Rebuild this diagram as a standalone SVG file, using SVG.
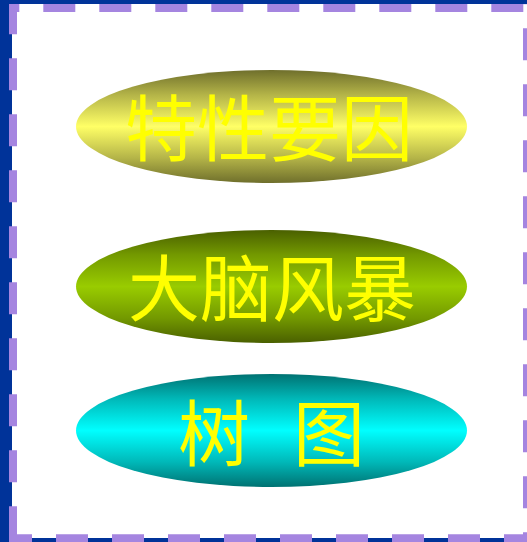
<svg xmlns="http://www.w3.org/2000/svg" width="527" height="542" viewBox="0 0 527 542">
  <defs>
    <linearGradient id="gY" x1="0" y1="0" x2="0" y2="1">
      <stop offset="0" stop-color="#6f6f2c"/>
      <stop offset="0.22" stop-color="#b4b448"/>
      <stop offset="0.5" stop-color="#ffff66"/>
      <stop offset="0.78" stop-color="#b4b448"/>
      <stop offset="1" stop-color="#6f6f2c"/>
    </linearGradient>
    <linearGradient id="gG" x1="0" y1="0" x2="0" y2="1">
      <stop offset="0" stop-color="#4a6000"/>
      <stop offset="0.22" stop-color="#739900"/>
      <stop offset="0.5" stop-color="#99cc00"/>
      <stop offset="0.78" stop-color="#739900"/>
      <stop offset="1" stop-color="#4a6000"/>
    </linearGradient>
    <linearGradient id="gC" x1="0" y1="0" x2="0" y2="1">
      <stop offset="0" stop-color="#007272"/>
      <stop offset="0.22" stop-color="#00b8b8"/>
      <stop offset="0.5" stop-color="#00ffff"/>
      <stop offset="0.78" stop-color="#00b8b8"/>
      <stop offset="1" stop-color="#007272"/>
    </linearGradient>
  </defs>
  <style>
    .dash { stroke: #a585e0; stroke-width: 8; stroke-dasharray: 32 24; fill: none; }
    .lbl { font-family: "Noto Sans CJK SC", "Noto Sans CJK JP", sans-serif; font-size: 72px; font-weight: 400; fill: #ffff00; }
  </style>
  <g id="frame">
    <rect x="0" y="0" width="527" height="542" fill="#003399"/>
    <rect x="12" y="4" width="515" height="534" fill="#ffffff"/>
    <line class="dash" x1="9" y1="8" x2="527" y2="8" stroke-dashoffset="21.7"/>
    <line class="dash" x1="13" y1="4" x2="13" y2="542" stroke-dashoffset="1.7"/>
    <line class="dash" x1="527" y1="4" x2="527" y2="542" stroke-dashoffset="31.7"/>
    <line class="dash" x1="9" y1="538.3" x2="523.3" y2="538.3" stroke-dashoffset="9"/>
  </g>
  <g id="connectors"></g>
  <g id="node1">
    <ellipse cx="271.5" cy="126.5" rx="195.5" ry="56.5" fill="url(#gY)"/>
    <text class="lbl" x="269" y="155" text-anchor="middle">特性要因</text>
  </g>
  <g id="node2">
    <ellipse cx="271.5" cy="286.5" rx="195.5" ry="56.5" fill="url(#gG)"/>
    <text class="lbl" x="272" y="315" text-anchor="middle">大脑风暴</text>
  </g>
  <g id="node3">
    <ellipse cx="271.5" cy="430.5" rx="195.5" ry="56.5" fill="url(#gC)"/>
    <text class="lbl" y="460"><tspan x="178">树</tspan> <tspan x="293">图</tspan></text>
  </g>
</svg>
